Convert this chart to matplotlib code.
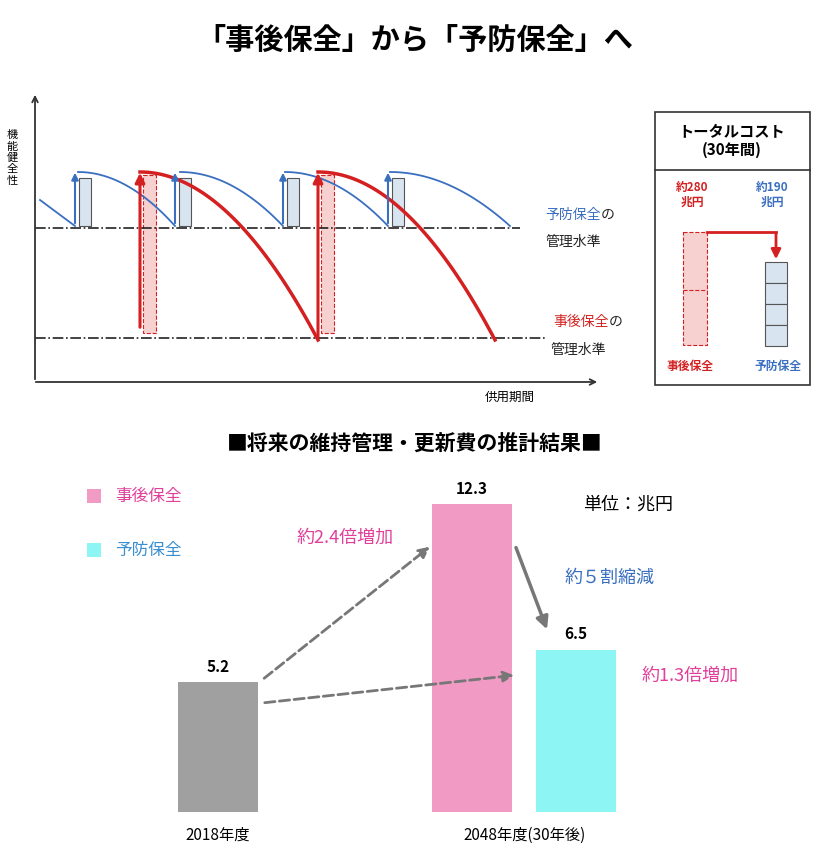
import numpy as np
import matplotlib.pyplot as plt
from matplotlib.patches import Rectangle, FancyArrowPatch

plt.rcParams['font.family'] = 'Noto Sans CJK JP'

# bar chart data
years = ['2018年度', '2048年度(30年後)']
cost_labels = ['事後保全', '予防保全']
cost_2018 = 5.2
cost_2048 = [12.3, 6.5]   # 事後保全, 予防保全
ratio_texts = ['約2.4倍増加', '約1.3倍増加', '約５割縮減']

# diagram data (x: start/end of each deterioration cycle, y: level at start/end)
blue_starts = [40, 78, 180, 285, 390]
blue_ends = [75, 175, 283, 388, 510]
blue_top, blue_low = 172, 226
red_starts = [140, 318]
red_ends = [318, 495]
red_top, red_low = 172, 340
total_costs = ['約280\n兆円', '約190\n兆円']

RED = '#d42020'
BLUE = '#3a6fc0'
PINK = '#f09ac4'
CYAN = '#8ef5f5'
GRAY = '#a0a0a0'

fig = plt.figure(figsize=(8.3, 8.6), dpi=100)

# bars on their own axes (below the annotation layer)
base = 812
ax2 = fig.add_axes([0, (860 - base) / 860, 1, base / 860])
ax2.set_zorder(0)
ax2.set_xlim(0, 830)
ax2.set_ylim(0, base / 25)
ax2.axis('off')
bar_x = [218, 472, 576]
bar_vals = [cost_2018] + cost_2048
bar_cols = [GRAY, PINK, CYAN]
ax2.bar(bar_x, bar_vals, width=80, color=bar_cols)
for x, v in zip(bar_x, bar_vals):
    ax2.text(x, v + 0.3, f'{v}', ha='center', va='bottom', fontsize=11, fontweight='bold')

ax = fig.add_axes([0, 0, 1, 1])
ax.set_zorder(1)
ax.patch.set_alpha(0)
ax.set_xlim(0, 830)
ax.set_ylim(860, 0)
ax.axis('off')

ax.text(415, 40, '「事後保全」から「予防保全」へ', ha='center', va='center',
        fontsize=21, fontweight='bold')

# axes of the diagram
ax.annotate('', xy=(35, 92), xytext=(35, 382),
            arrowprops=dict(arrowstyle='->', color='#333', lw=1.3))
ax.annotate('', xy=(600, 382), xytext=(33, 382),
            arrowprops=dict(arrowstyle='->', color='#333', lw=1.3))
ax.text(12, 158, '機\n能\n健\n全\n性', ha='center', va='center', fontsize=8, linespacing=1.15)
ax.text(510, 397, '供用期間', ha='center', va='center', fontsize=9)

ax.plot([35, 520], [228, 228], color='#222', ls='-.', lw=1.2)
ax.plot([35, 545], [338, 338], color='#222', ls='-.', lw=1.2)


def curve(x0, x1, ytop, ylow, first=False):
    t = np.linspace(0, 1, 60)
    xs = x0 + (x1 - x0) * t
    if first:
        ys = 200 + (ylow - 200) * t
    else:
        ys = ytop + (ylow - ytop) * t ** 2
    return xs, ys


# red cycles
for x0, x1 in zip(red_starts, red_ends):
    rect = Rectangle((x0 + 3, red_top + 3), 13, red_low - red_top - 10, fc='#f7d0d0',
                     ec=RED, ls='--', lw=0.8)
    ax.add_patch(rect)
    ax.annotate('', xy=(x0, red_top - 2), xytext=(x0, 330 if x0 < 200 else red_low),
                arrowprops=dict(arrowstyle='-|>', color=RED, lw=2.2, mutation_scale=14))
    xs, ys = curve(x0, x1, red_top, red_low)
    ax.plot(xs, ys, color=RED, lw=2.5)

# blue cycles
for i, (x0, x1) in enumerate(zip(blue_starts, blue_ends)):
    xs, ys = curve(x0, x1, blue_top, blue_low, first=(i == 0))
    ax.plot(xs, ys, color=BLUE, lw=1.3)
    if i < len(blue_starts) - 1:
        xa = x1
        ax.add_patch(Rectangle((xa + 4, blue_top + 6), 12, blue_low - blue_top - 6,
                               fc='#d8e4f0', ec='#555', lw=0.8))
        ax.annotate('', xy=(xa, blue_top - 2), xytext=(xa, blue_low),
                    arrowprops=dict(arrowstyle='-|>', color=BLUE, lw=1.5, mutation_scale=10))

ax.text(545, 215, '予防保全', color=BLUE, fontsize=10, va='center')
ax.text(601, 215, 'の', color='#222', fontsize=10, va='center')
ax.text(545, 242, '管理水準', color='#222', fontsize=10, va='center')
ax.text(553, 322, '事後保全', color=RED, fontsize=10, va='center')
ax.text(609, 322, 'の', color='#222', fontsize=10, va='center')
ax.text(550, 350, '管理水準', color='#222', fontsize=10, va='center')

# total cost panel
ax.add_patch(Rectangle((655, 112), 155, 273, fc='white', ec='#333', lw=1.2))
ax.plot([655, 810], [170, 170], color='#333', lw=1.2)
ax.text(732, 141, 'トータルコスト\n(30年間)', ha='center', va='center', fontsize=11,
        fontweight='bold', linespacing=1.2)
ax.text(692, 195, total_costs[0], ha='center', va='center', fontsize=8.5,
        color=RED, fontweight='bold', linespacing=1.1)
ax.text(772, 195, total_costs[1], ha='center', va='center', fontsize=8.5,
        color=BLUE, fontweight='bold', linespacing=1.1)
ax.add_patch(Rectangle((683, 232), 24, 113, fc='#f7d0d0', ec=RED, ls='--', lw=0.8))
ax.plot([683, 707], [290, 290], color=RED, ls='--', lw=0.8)
for k in range(4):
    ax.add_patch(Rectangle((765, 262 + k * 21), 22, 21, fc='#d8e4f0', ec='#555', lw=0.8))
ax.plot([707, 776], [232, 232], color=RED, lw=2)
ax.annotate('', xy=(776, 262), xytext=(776, 231),
            arrowprops=dict(arrowstyle='-|>', color=RED, lw=2, mutation_scale=14))
ax.text(690, 366, cost_labels[0], ha='center', va='center', fontsize=8.5,
        color=RED, fontweight='bold')
ax.text(778, 366, cost_labels[1], ha='center', va='center', fontsize=8.5,
        color=BLUE, fontweight='bold')

# bottom chart annotations
ax.text(415, 443, '■将来の維持管理・更新費の推計結果■', ha='center', va='center',
        fontsize=15, fontweight='bold')
ax.add_patch(Rectangle((87, 489), 14, 14, fc=PINK, ec='none'))
ax.text(115, 496, cost_labels[0], va='center', fontsize=12, color='#e0409a')
ax.add_patch(Rectangle((87, 543), 14, 14, fc=CYAN, ec='none'))
ax.text(115, 550, cost_labels[1], va='center', fontsize=12, color='#3a8fd0')
ax.text(583, 505, '単位：兆円', va='center', fontsize=13)
ax.text(345, 538, ratio_texts[0], ha='center', va='center', fontsize=13, color='#e0409a')
ax.text(610, 578, ratio_texts[2], ha='center', va='center', fontsize=13, color=BLUE)
ax.text(690, 676, ratio_texts[1], ha='center', va='center', fontsize=13, color='#e0409a')

ax.add_patch(FancyArrowPatch((262, 680), (432, 545), arrowstyle='-|>', mutation_scale=16,
                             color='#777', lw=2, ls='--'))
ax.add_patch(FancyArrowPatch((262, 703), (517, 675), arrowstyle='-|>', mutation_scale=16,
                             color='#777', lw=2, ls='--'))
ax.add_patch(FancyArrowPatch((515, 545), (548, 632), arrowstyle='-|>', mutation_scale=18,
                             color='#777', lw=2.5))

ax.text(218, 835, years[0], ha='center', va='center', fontsize=11)
ax.text(525, 835, years[1], ha='center', va='center', fontsize=11)

fig.savefig('out.png', dpi=100)
